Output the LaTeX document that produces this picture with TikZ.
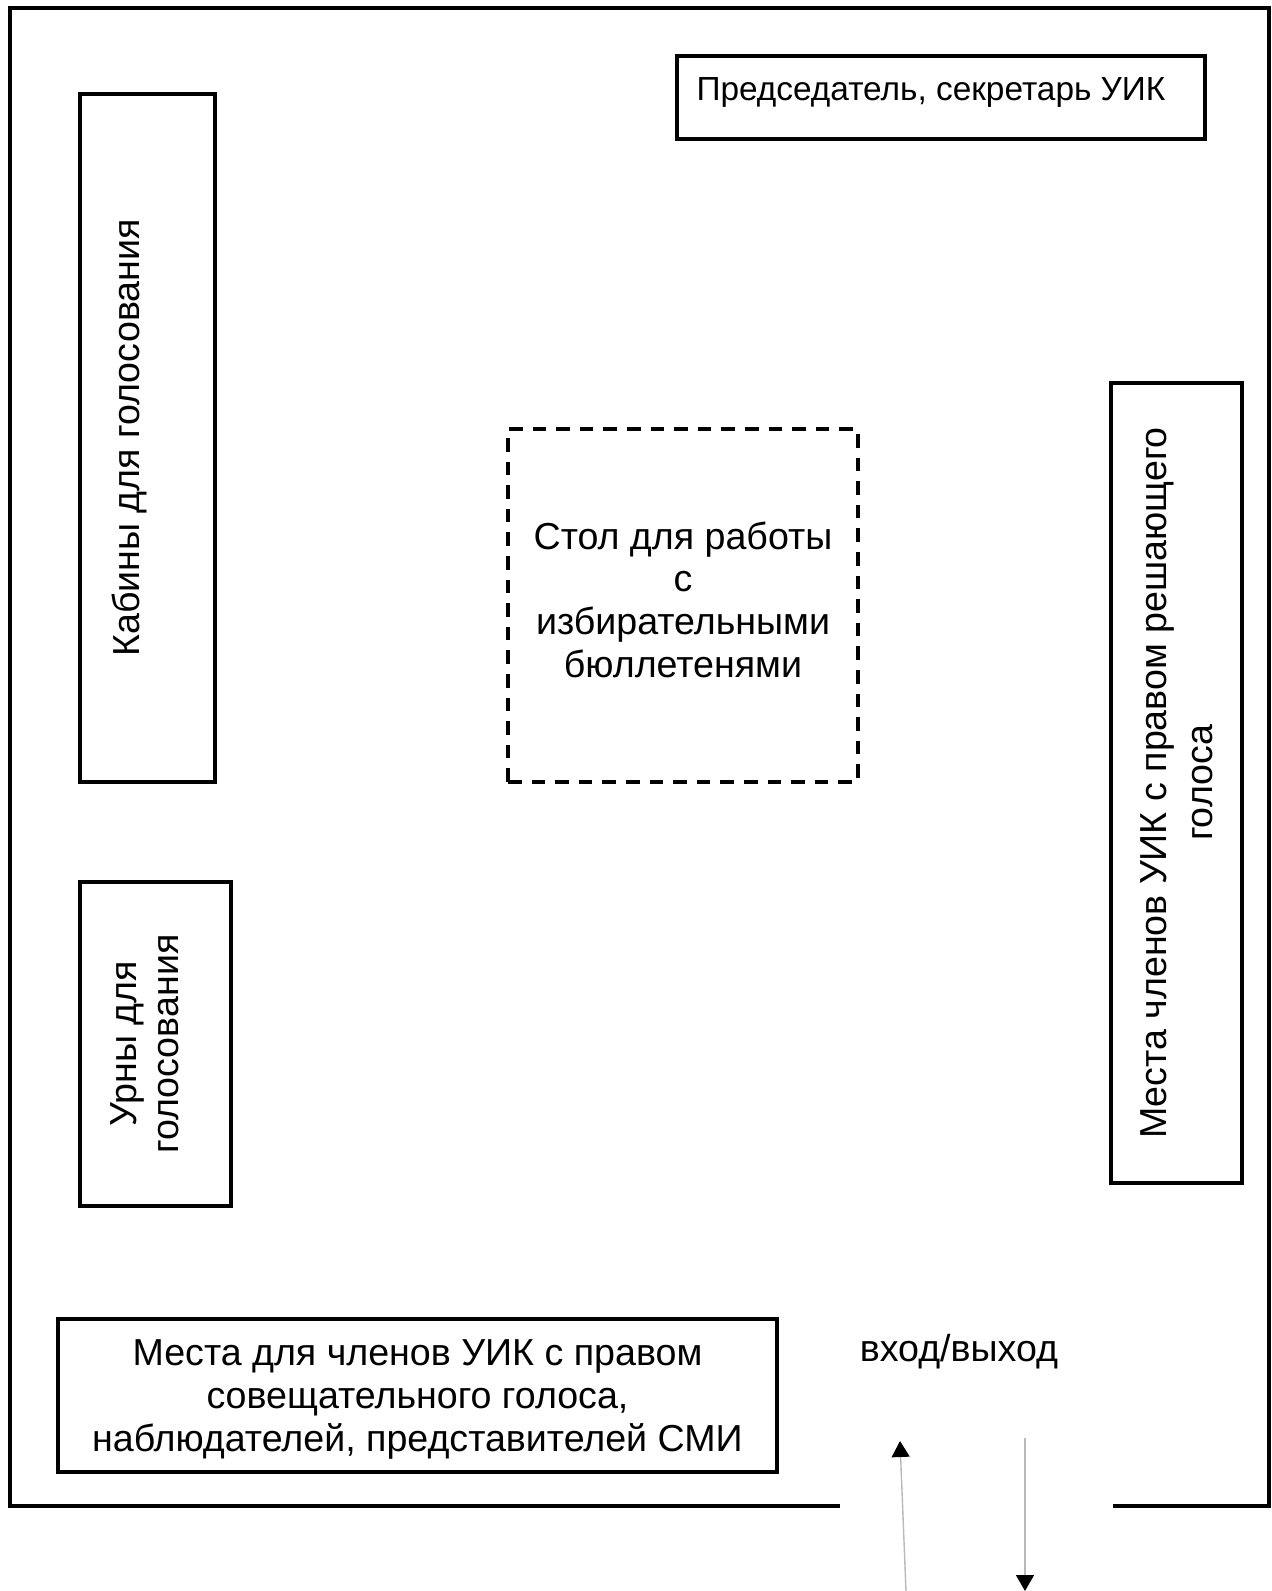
\documentclass[tikz,border=0pt]{standalone}
\usepackage{fontspec}
\setmainfont{Liberation Sans}
\usetikzlibrary{arrows.meta}

\begin{document}
\begin{tikzpicture}[
  x=0.5pt, y=-0.5pt,
  box/.style={
    rectangle,
    draw,
    line width=1.6pt,
    align=center,
    inner sep=0pt,
    font=\fontsize{18.8}{21.3}\selectfont
  },
  wall/.style={line width=1.6pt},
  arrow/.style={-{Triangle[length=8pt, width=9pt, color=black]}, draw=gray!55, line width=0.7pt}
]
\useasboundingbox (0,0) rectangle (1272,1591);

% Room walls (gap for the door)
\draw[wall] (840,1506) -- (10,1506) -- (10,8) -- (1269,8) -- (1269,1506) -- (1113,1506);

% Nodes
\node[box, minimum width=264pt, minimum height=41.5pt, text depth=8.5pt, font=\fontsize{16.7}{19}\selectfont] (chair) at (941,97.5) {Председатель, секретарь УИК\hspace{10pt}};
\node[box, rotate=90, minimum width=344pt, minimum height=67.5pt, text depth=22pt] (booths) at (147.5,438) {Кабины для голосования};
\node[box, rotate=90, minimum width=162pt, minimum height=75.5pt, text depth=11pt] (urns) at (155.5,1044) {Урны для\\голосования};
\node[box, dashed, dash pattern=on 6.8pt off 5pt, minimum width=175pt, minimum height=176.5pt, text depth=6pt] (table) at (683,605.5) {Стол для работы\\с\\избирательными\\бюллетенями};
\node[box, rotate=90, minimum width=400pt, minimum height=65.5pt, font=\fontsize{18.8}{22.8}\selectfont] (members) at (1176.5,783) {Места членов УИК с правом решающего\\голоса};
\node[box, minimum width=359.5pt, minimum height=76.5pt, text depth=-2pt] (observers) at (417.5,1395.5) {Места для членов УИК с правом\\совещательного голоса,\\наблюдателей, представителей СМИ};
\node[font=\fontsize{18.8}{21.3}\selectfont] (door) at (959,1352) {вход/выход};

% Arrows
\coordinate (inA) at (906,1591);
\coordinate (inB) at (900,1441);
\coordinate (outA) at (1025,1438);
\coordinate (outB) at (1025,1591);
\draw[arrow] (inA) -- (inB);
\draw[arrow] (outA) -- (outB);

\end{tikzpicture}
\end{document}
